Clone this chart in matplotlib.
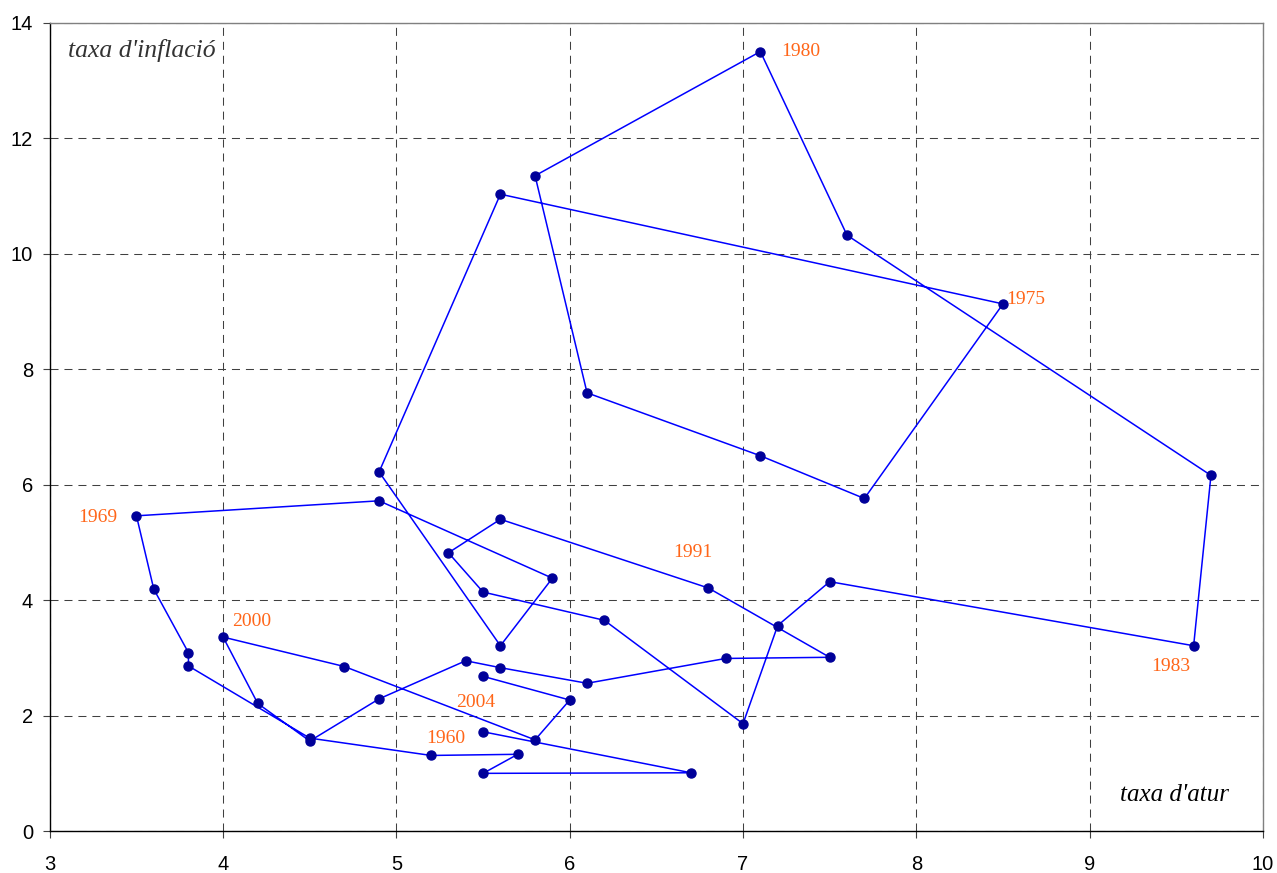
import matplotlib
matplotlib.use("Agg")
import matplotlib.pyplot as plt

# US unemployment vs inflation, 1960-2004
years = list(range(1960, 2005))
atur = [5.5, 6.7, 5.5, 5.7, 5.2, 4.5, 3.8, 3.8, 3.6, 3.5,
        4.9, 5.9, 5.6, 4.9, 5.6, 8.5, 7.7, 7.1, 6.1, 5.8,
        7.1, 7.6, 9.7, 9.6, 7.5, 7.2, 7.0, 6.2, 5.5, 5.3,
        5.6, 6.8, 7.5, 6.9, 6.1, 5.6, 5.4, 4.9, 4.5, 4.2,
        4.0, 4.7, 5.8, 6.0, 5.5]
inflacio = [1.72, 1.01, 1.00, 1.33, 1.31, 1.61, 2.86, 3.09, 4.19, 5.46,
            5.72, 4.38, 3.21, 6.22, 11.03, 9.13, 5.76, 6.50, 7.59, 11.35,
            13.50, 10.32, 6.16, 3.21, 4.32, 3.56, 1.86, 3.65, 4.14, 4.82,
            5.40, 4.21, 3.01, 2.99, 2.56, 2.83, 2.95, 2.29, 1.56, 2.21,
            3.36, 2.85, 1.58, 2.27, 2.68]

# labelled years and text offsets (points)
label_years = [1960, 1969, 1975, 1980, 1983, 1991, 2000, 2004]
label_offsets = {1960: (-27, -4.5, 'center'), 1969: (-14, -1.5, 'right'),
                 1975: (2, 3.5, 'left'), 1980: (15, 0, 'left'),
                 1983: (-16.5, -15, 'center'), 1991: (-11, 25.5, 'center'),
                 2000: (6.5, 11.5, 'left'), 2004: (-5, -18.5, 'center')}

fig = plt.figure(figsize=(12.77, 8.73), dpi=100)
ax = fig.add_axes([0.039, 0.048, 0.950, 0.926])

ax.plot(atur, inflacio, color='#0000ff', lw=1.1, marker='o', ms=6.5,
        mfc='#000099', mec='#000099', zorder=3)

for y in label_years:
    i = years.index(y)
    dx, dy, ha = label_offsets[y]
    ax.annotate(str(y), (atur[i], inflacio[i]), xytext=(dx, dy),
                textcoords='offset points', ha=ha, va='center',
                color='#ff6619', fontsize=14, family='Liberation Serif')

ax.set_xlim(3, 10)
ax.set_ylim(0, 14)
ax.set_xticks(range(3, 11))
ax.set_yticks(range(0, 15, 2))
ax.grid(True, color='#404040', lw=0.75, linestyle=(0, (7.7, 5.7)))
ax.set_axisbelow(True)

for s in ['left', 'bottom']:
    ax.spines[s].set_color('black')
    ax.spines[s].set_linewidth(1.0)
for s in ['top', 'right']:
    ax.spines[s].set_color('#808080')
    ax.spines[s].set_linewidth(1.0)

ax.tick_params(direction='out', length=5, width=0.8, color='#404040',
               labelsize=14.5)
ax.tick_params(axis='x', pad=12)
ax.tick_params(axis='y', pad=7)
for lbl in ax.get_xticklabels() + ax.get_yticklabels():
    lbl.set_family('Liberation Sans')

ax.text(0.015, 0.965, "taxa d'inflació", transform=ax.transAxes,
        ha='left', va='center', fontsize=18.5, style='italic',
        family='Liberation Serif', color='#333333')
ax.text(0.972, 0.045, "taxa d'atur", transform=ax.transAxes,
        ha='right', va='center', fontsize=18, style='italic',
        family='Liberation Serif', color='black')

fig.savefig('out.png', dpi=100)
